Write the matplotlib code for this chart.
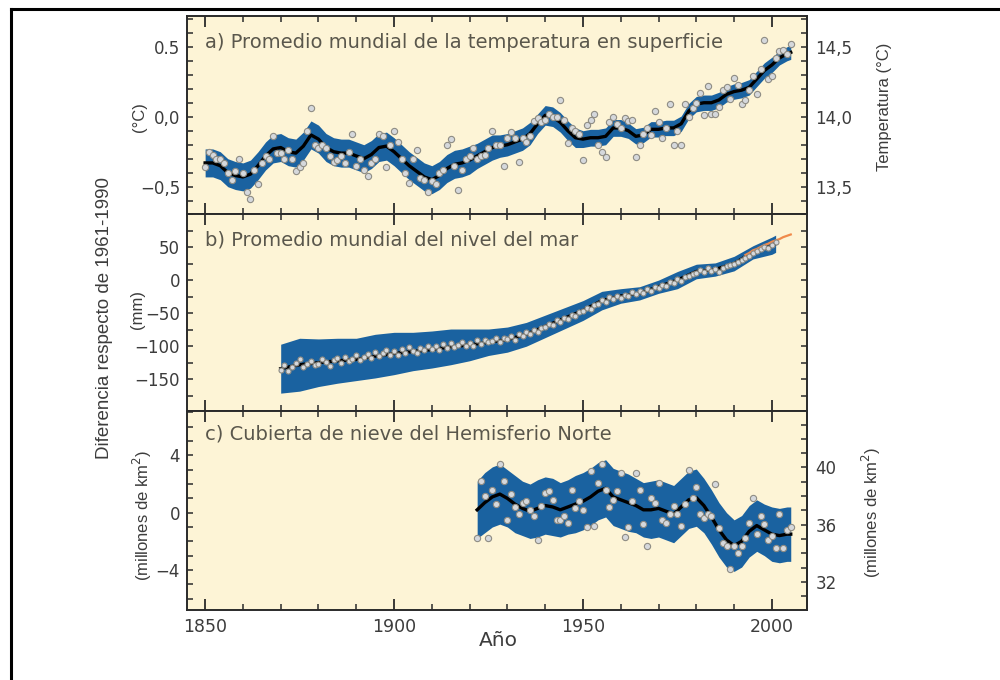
import numpy as np
import matplotlib.pyplot as plt
from matplotlib.lines import Line2D
from matplotlib.ticker import MultipleLocator

# ---------------- datos ----------------
# a) temperatura media mundial (anomalia respecto 1961-1990, grados C)
anios_temp = list(range(1850, 2006))
temp_anual = [
    -0.36, -0.25, -0.27, -0.30, -0.30, -0.33, -0.40, -0.45, -0.39, -0.30,
    -0.40, -0.54, -0.59, -0.38, -0.48, -0.33, -0.28, -0.30, -0.14, -0.26,
    -0.26, -0.30, -0.24, -0.30, -0.39, -0.36, -0.33, -0.10, 0.06, -0.20,
    -0.22, -0.20, -0.22, -0.28, -0.32, -0.31, -0.28, -0.33, -0.25, -0.12,
    -0.35, -0.30, -0.38, -0.42, -0.33, -0.30, -0.12, -0.14, -0.36, -0.20,
    -0.10, -0.18, -0.30, -0.40, -0.47, -0.30, -0.24, -0.44, -0.45, -0.54,
    -0.46, -0.48, -0.40, -0.38, -0.20, -0.16, -0.35, -0.52, -0.38, -0.30,
    -0.28, -0.22, -0.30, -0.28, -0.27, -0.22, -0.10, -0.20, -0.20, -0.35,
    -0.15, -0.11, -0.15, -0.32, -0.15, -0.18, -0.14, -0.03, -0.01, -0.04,
    -0.02, 0.02, 0.00, 0.00, 0.12, -0.02, -0.19, -0.08, -0.10, -0.12,
    -0.31, -0.06, -0.02, 0.02, -0.20, -0.25, -0.29, -0.04, 0.00, -0.05,
    -0.08, -0.01, -0.03, -0.02, -0.29, -0.20, -0.12, -0.08, -0.13, 0.04,
    -0.04, -0.15, -0.08, 0.09, -0.20, -0.10, -0.20, 0.09, 0.00, 0.06,
    0.10, 0.17, 0.01, 0.22, 0.02, 0.02, 0.07, 0.19, 0.21, 0.13,
    0.28, 0.23, 0.09, 0.12, 0.19, 0.29, 0.16, 0.34, 0.55, 0.27,
    0.29, 0.42, 0.47, 0.48, 0.45, 0.52,
]
anios_temp_suave = list(range(1850, 2005, 2)) + [2005]
temp_suave = [
    -0.33, -0.33, -0.35, -0.40, -0.42, -0.43, -0.41, -0.35, -0.28, -0.23,
    -0.22, -0.25, -0.26, -0.21, -0.13, -0.16, -0.22, -0.25, -0.26, -0.26,
    -0.28, -0.30, -0.27, -0.22, -0.21, -0.25, -0.30, -0.35, -0.39, -0.43,
    -0.45, -0.42, -0.37, -0.34, -0.33, -0.31, -0.28, -0.25, -0.22, -0.21,
    -0.20, -0.18, -0.16, -0.12, -0.05, 0.01, 0.00, -0.04, -0.10, -0.15,
    -0.16, -0.15, -0.15, -0.14, -0.08, -0.08, -0.10, -0.14, -0.13, -0.09,
    -0.09, -0.08, -0.08, -0.05, 0.04, 0.09, 0.10, 0.10, 0.12, 0.16,
    0.18, 0.19, 0.21, 0.27, 0.33, 0.37, 0.42, 0.45, 0.46,
]
temp_incert = [
    0.10, 0.10, 0.10, 0.10, 0.10, 0.10, 0.10, 0.10, 0.10, 0.10,
    0.10, 0.10, 0.10, 0.10, 0.10, 0.10, 0.10, 0.10, 0.10, 0.10,
    0.10, 0.10, 0.10, 0.10, 0.10, 0.10, 0.10, 0.10, 0.10, 0.10,
    0.10, 0.10, 0.10, 0.10, 0.10, 0.10, 0.09, 0.09, 0.09, 0.08,
    0.08, 0.08, 0.08, 0.08, 0.07, 0.07, 0.07, 0.07, 0.07, 0.07,
    0.06, 0.06, 0.06, 0.06, 0.06, 0.06, 0.055, 0.055, 0.055, 0.055,
    0.055, 0.055, 0.055, 0.055, 0.055, 0.055, 0.055, 0.055, 0.055, 0.055,
    0.055, 0.055, 0.055, 0.055, 0.055, 0.055, 0.05, 0.05, 0.05,
]

# b) nivel del mar (mm)
anios_mar = list(range(1870, 2002))
mar_anual = [
    -136, -128, -138, -131, -126, -120, -131, -127, -122, -129,
    -127, -119, -124, -130, -121, -118, -125, -117, -123, -120,
    -114, -121, -116, -112, -118, -109, -115, -111, -106, -113,
    -108, -113, -104, -110, -101, -107, -111, -103, -106, -100,
    -104, -99, -106, -97, -102, -95, -101, -98, -93, -99,
    -95, -99, -91, -96, -90, -94, -92, -87, -93, -88,
    -89, -85, -90, -82, -84, -79, -81, -76, -78, -72,
    -71, -66, -68, -61, -63, -57, -59, -53, -55, -49,
    -47, -42, -44, -38, -36, -30, -33, -26, -29, -24,
    -27, -22, -24, -18, -21, -17, -19, -14, -16, -10,
    -12, -7, -9, -3, -5, 1, -2, 4, 6, 9,
    11, 15, 12, 18, 14, 17, 13, 19, 21, 23,
    24, 28, 31, 34, 37, 41, 44, 47, 50, 48,
    53, 57,
]
anios_mar_suave = list(range(1870, 2001, 5)) + [2001]
mar_suave = [-134, -128, -125, -122, -120, -115, -111, -108, -105, -101,
             -98, -94, -90, -82, -70, -58, -46, -31, -24, -20,
             -10, 0, 13, 16, 25, 42, 52, 55]
mar_incert = [37, 40, 36, 34, 32, 33, 32, 29, 28, 27,
              24, 20, 19, 18, 17, 16, 15, 14, 11, 10,
              10, 13, 11, 10, 11, 10, 13, 13]
anios_satelite = list(range(1993, 2006))
mar_satelite = [38, 41, 45, 47, 50, 53, 55, 58, 60, 62, 65, 67, 69]

# c) cubierta de nieve del Hemisferio Norte (millones de km2)
anios_nieve = list(range(1922, 2006))
nieve_anual = [
    -1.8, 2.2, 1.2, -1.8, 1.6, 0.6, 3.4, 2.2,
    -0.5, 1.3, 0.4, -0.1, 0.7, 0.8, 0.2, -0.2, -1.9, 0.5,
    1.4, 1.5, 0.9, -0.5, -0.5, -0.2, -0.7, 1.6, 0.3, 0.8,
    0.2, -1.0, 2.9, -0.9, 2.1, 3.4, 1.6, 0.4, 0.9, 1.5,
    2.8, -1.7, -1.0, 0.8, 2.8, 1.6, -0.8, -2.3, 1.0, 0.7,
    2.1, -0.5, -0.7, -0.1, 0.5, -0.1, -0.9, 0.6, 3.0, 1.0,
    1.8, -0.1, -0.4, -0.1, -0.2, 2.0, -1.1, -2.1, -2.3, -3.9,
    -2.3, -2.8, -2.3, -1.8, -0.7, 1.0, -1.5, -0.2, -0.8, -1.9,
    -1.6, -2.5, -0.1, -2.5, -1.2, -1.0,
]
anios_nieve_suave = list(range(1922, 2005, 2)) + [2005]
nieve_suave = [0.2, 0.7, 1.1, 1.3, 1.0, 0.6, 0.3, 0.1, 0.3, 0.5,
               0.4, 0.2, 0.4, 0.6, 0.8, 1.1, 1.5, 1.7, 1.1, 0.9,
               0.7, 0.5, 0.2, 0.2, 0.3, 0.1, -0.1, 0.4, 0.9, 1.05,
               0.5, -0.3, -1.2, -1.9, -2.3, -2.0, -1.3, -0.9, -1.2, -1.5,
               -1.6, -1.5, -1.5]
nieve_incert = [2.0, 2.1, 2.1, 2.1, 2.0, 2.0, 1.9, 1.9, 2.0, 2.0,
                2.0, 1.9, 1.9, 2.0, 2.0, 2.0, 2.0, 2.0, 2.0, 2.0,
                2.0, 1.9, 1.9, 2.0, 2.0, 2.0, 2.0, 2.0, 2.0, 2.0,
                1.9, 1.9, 1.9, 1.9, 1.8, 1.8, 1.8, 1.8, 1.8, 1.9,
                1.9, 1.9, 1.9]

# ---------------- estilo ----------------
fondo = '#fdf4d6'
azul = '#1a62a0'
color_eje = '#2a2a2a'
color_texto = '#3c3c3c'
color_titulo = '#5a574c'
fuente = 'DejaVu Sans'
fuente_rot = 'Liberation Sans'

plt.rcParams['font.family'] = fuente

fig = plt.figure(figsize=(10, 6.8), dpi=100)

izq, ancho = 0.187, 0.62
ax_a = fig.add_axes([izq, 0.6853, ancho, 0.2912])
ax_b = fig.add_axes([izq, 0.3956, ancho, 0.2897])
ax_c = fig.add_axes([izq, 0.1029, ancho, 0.2926])


def estilo(ax, etiquetas_x=False):
    ax.set_facecolor(fondo)
    ax.set_xlim(1845.2, 2009.3)
    ax.xaxis.set_major_locator(MultipleLocator(50))
    ax.xaxis.set_minor_locator(MultipleLocator(10))
    ax.tick_params(axis='x', which='both', direction='in', top=True, bottom=True,
                   labelbottom=etiquetas_x, color=color_eje)
    ax.tick_params(axis='x', which='major', length=8, width=1.3)
    ax.tick_params(axis='x', which='minor', length=4, width=1.1)
    ax.tick_params(axis='y', which='both', direction='in', length=4, width=1.1,
                   color=color_eje, labelsize=12, labelcolor=color_texto, pad=5)
    ax.tick_params(axis='x', labelsize=12.5, labelcolor=color_texto, pad=6)
    for s in ax.spines.values():
        s.set_linewidth(1.4)
        s.set_color(color_eje)


def serie(ax, anios_s, suave, incert, anios_p, puntos, ms=4.5):
    suave = np.array(suave)
    incert = np.array(incert)
    ax.fill_between(anios_s, suave - incert, suave + incert, color=azul, lw=0, zorder=2)
    ax.plot(anios_s, suave, color='black', lw=2.4, zorder=3)
    ax.plot(anios_p, puntos, 'o', ms=ms, mfc='#d5d8dc', mec='#8e8c84', mew=0.8,
            ls='none', zorder=4)


# a)
estilo(ax_a)
serie(ax_a, anios_temp_suave, temp_suave, temp_incert, anios_temp, temp_anual)
ax_a.set_ylim(-0.695, 0.72)
ax_a.set_yticks([-0.5, 0.0, 0.5], ['\u22120,5', '0,0', '0.5'])
ax_a.yaxis.set_minor_locator(MultipleLocator(0.1))
sec_a = ax_a.secondary_yaxis('right', functions=(lambda v: v + 14.0, lambda v: v - 14.0))
sec_a.set_yticks([13.5, 14.0, 14.5], ['13,5', '14,0', '14,5'])
sec_a.yaxis.set_minor_locator(MultipleLocator(0.1))
sec_a.tick_params(which='both', direction='in', length=4, width=1.1, color=color_eje,
                  labelsize=12, labelcolor=color_texto, pad=6)
sec_a.spines['right'].set_linewidth(1.4)
sec_a.spines['right'].set_color(color_eje)
ax_a.text(1850, 0.53, 'a) Promedio mundial de la temperatura en superficie',
          fontsize=14, color=color_titulo, va='center', ha='left')

# b)
estilo(ax_b)
serie(ax_b, anios_mar_suave, mar_suave, mar_incert, anios_mar, mar_anual, ms=3.6)
ax_b.plot(anios_satelite, mar_satelite, color='#f08a4b', lw=1.6, zorder=3.5)
ax_b.set_ylim(-198, 100)
ax_b.set_yticks([-150, -100, -50, 0, 50], ['\u2212150', '\u2212100', '\u221250', '0', '50'])
ax_b.yaxis.set_minor_locator(MultipleLocator(25))
ax_b.tick_params(axis='y', which='both', right=True)
ax_b.text(1850, 61, 'b) Promedio mundial del nivel del mar',
          fontsize=14, color=color_titulo, va='center', ha='left')

# c)
estilo(ax_c, etiquetas_x=True)
serie(ax_c, anios_nieve_suave, nieve_suave, nieve_incert, anios_nieve, nieve_anual)
ax_c.set_ylim(-6.8, 7.1)
ax_c.set_yticks([-4, 0, 4], ['\u22124', '0', '4'])
ax_c.yaxis.set_minor_locator(MultipleLocator(1))
ax_c.set_xticks([1850, 1900, 1950, 2000], ['1850', '1900', '1950', '2000'])
sec_c = ax_c.secondary_yaxis('right', functions=(lambda v: v + 36.84, lambda v: v - 36.84))
sec_c.set_yticks([32, 36, 40], ['32', '36', '40'])
sec_c.yaxis.set_minor_locator(MultipleLocator(1))
sec_c.tick_params(which='both', direction='in', length=4, width=1.1, color=color_eje,
                  labelsize=12, labelcolor=color_texto, pad=6)
sec_c.spines['right'].set_linewidth(1.4)
sec_c.spines['right'].set_color(color_eje)
ax_c.text(1850, 5.5, 'c) Cubierta de nieve del Hemisferio Norte',
          fontsize=14, color=color_titulo, va='center', ha='left')

# rotulos de ejes
def fpx(x, y):
    return x / 1000, 1 - y / 680

fig.text(*fpx(105, 318), 'Diferencia respecto de 1961-1990', rotation=90, fontsize=13.5,
         family=fuente_rot, color=color_texto, ha='center', va='center')
fig.text(*fpx(139, 117), '(\u00b0C)', rotation=90, fontsize=12, family=fuente_rot,
         color=color_texto, ha='center', va='center')
fig.text(*fpx(137, 310), '(mm)', rotation=90, fontsize=12, family=fuente_rot,
         color=color_texto, ha='center', va='center')
fig.text(*fpx(142, 515), '(millones de km$^2$)', rotation=90, fontsize=12,
         family=fuente_rot, color=color_texto, ha='center', va='center')
fig.text(*fpx(884, 107), 'Temperatura (\u00b0C)', rotation=90, fontsize=12,
         family=fuente_rot, color=color_texto, ha='center', va='center')
fig.text(*fpx(871, 512), '(millones de km$^2$)', rotation=90, fontsize=12,
         family=fuente_rot, color=color_texto, ha='center', va='center')
fig.text(*fpx(498, 640), 'Año', fontsize=14.5, color=color_texto, ha='center', va='center')

# marco exterior (solo arriba e izquierda)
fig.add_artist(Line2D([10.5 / 1000, 1.0], [1 - 8.5 / 680, 1 - 8.5 / 680],
                      color='black', lw=2.2, transform=fig.transFigure))
fig.add_artist(Line2D([10.5 / 1000, 10.5 / 1000], [0.0, 1 - 8.5 / 680],
                      color='black', lw=2.2, transform=fig.transFigure))

fig.savefig('out.png', dpi=100, facecolor='white')
